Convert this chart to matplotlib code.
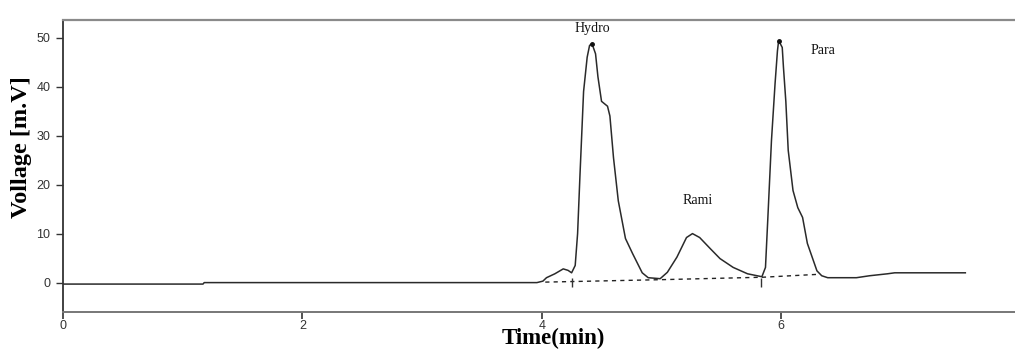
import matplotlib
matplotlib.use("Agg")
import matplotlib.pyplot as plt

# Chromatogram trace (time in min, voltage in mV)
time_min = [0.00, 1.17, 1.18, 3.96, 4.01, 4.04, 4.11, 4.18, 4.22, 4.25, 4.28, 4.30,
            4.32, 4.35, 4.38, 4.40, 4.42, 4.45, 4.47, 4.50, 4.55, 4.57, 4.60, 4.64,
            4.70, 4.76, 4.84, 4.89, 4.99, 5.05, 5.13, 5.21, 5.26, 5.32, 5.41, 5.49,
            5.60, 5.72, 5.84, 5.87, 5.89, 5.92, 5.95, 5.97, 5.98, 6.01, 6.02, 6.04,
            6.06, 6.10, 6.14, 6.18, 6.22, 6.26, 6.30, 6.34, 6.39, 6.63, 6.74, 6.89,
            6.95, 7.54]
voltage = [-0.3, -0.3, 0.0, 0.0, 0.3, 1.0, 1.8, 2.8, 2.5, 2.0, 3.5, 10.0,
           22.0, 39.0, 46.0, 48.4, 48.8, 46.7, 42.0, 37.0, 36.0, 34.0, 25.5, 16.7,
           9.0, 5.9, 2.0, 1.0, 0.8, 2.1, 5.2, 9.2, 10.0, 9.2, 6.9, 4.9,
           3.1, 1.8, 1.2, 3.1, 13.3, 29.0, 40.6, 47.3, 49.4, 48.0, 44.0, 37.0,
           27.0, 18.8, 15.3, 13.3, 8.0, 5.2, 2.4, 1.4, 1.0, 1.0, 1.4, 1.8,
           2.0, 2.0]

# Integration baseline (dashed)
base_time = [4.03, 5.00, 5.85, 6.32]
base_volt = [0.1, 0.6, 1.1, 1.7]

# Peak boundary markers
boundary_time = [4.25, 5.83]

# Peak labels
peak_names = ["Hydro", "Rami", "Para"]
label_time = [4.42, 5.30, 6.35]
label_volt = [51.8, 16.7, 47.3]
peak_time = [4.42, 5.98]
peak_volt = [48.8, 49.4]

x_ticks = [0, 2, 4, 6]
y_ticks = [0, 10, 20, 30, 40, 50]

tick_font = ["Liberation Sans", "DejaVu Sans"]
serif = ["Liberation Serif", "DejaVu Serif"]

fig = plt.figure(figsize=(10.15, 3.5), dpi=100)
ax = fig.add_axes([63 / 1015, 1 - 312 / 350, (1015 - 63) / 1015, (312 - 20) / 350])

ax.plot(time_min, voltage, color="#2a2a2a", lw=1.1)
ax.plot(base_time, base_volt, color="#222222", lw=1.0, ls=(0, (3, 3)))
ax.vlines(boundary_time, -0.8, 0.9, color="#333333", lw=1.0)
ax.plot(peak_time, peak_volt, ls="none", marker="o", ms=2.5, color="#111111")

for name, tx, ty in zip(peak_names, label_time, label_volt):
    ax.text(tx, ty, name, ha="center", va="center", fontsize=10,
            family=serif, color="#111111")

ax.set_xlim(0, 7.955)
ax.set_ylim(-6.0, 53.6)
ax.set_xticks(x_ticks)
ax.set_yticks(y_ticks)
ax.set_xticklabels([str(v) for v in x_ticks])
ax.set_yticklabels([str(v) for v in y_ticks])

for lab in ax.get_xticklabels() + ax.get_yticklabels():
    lab.set_family(tick_font)
    lab.set_fontsize(9)
    lab.set_color("#222222")

ax.tick_params(axis="x", direction="out", length=5, width=1.2, pad=0.5, colors="#333333")
ax.tick_params(axis="y", direction="out", length=5, width=1.0, pad=4, colors="#333333")

ax.spines["right"].set_visible(False)
ax.spines["top"].set_color("#8a8a8a")
ax.spines["top"].set_linewidth(1.6)
ax.spines["left"].set_color("#333333")
ax.spines["left"].set_linewidth(1.3)
ax.spines["bottom"].set_color("#777777")
ax.spines["bottom"].set_linewidth(1.4)

fig.text(553 / 1015, 1 - 338.5 / 350, "Time(min)", ha="center", va="center",
         fontsize=16.5, fontweight="bold", family=serif)
fig.text(22 / 1015, 1 - 147 / 350, "Vollage [m.V]", ha="center", va="center",
         rotation=90, fontsize=17.5, fontweight="bold", family=serif)

fig.savefig("out.png", dpi=100, facecolor="white")
